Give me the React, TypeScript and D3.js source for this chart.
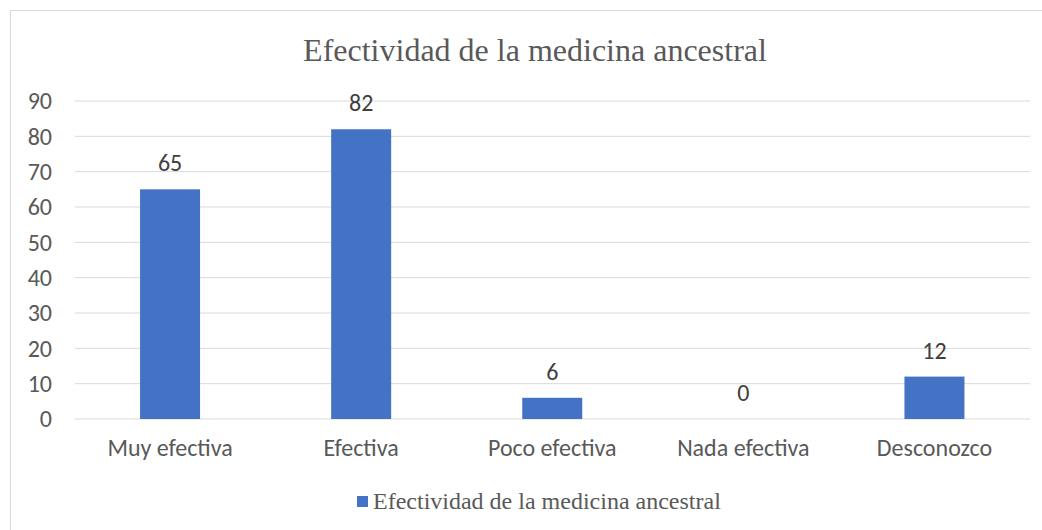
import React from 'react'
import { scaleBand, scaleLinear } from 'd3'

const categorias = ['Muy efectiva', 'Efectiva', 'Poco efectiva', 'Nada efectiva', 'Desconozco']
const valores = [65, 82, 6, 0, 12]
const ticksY = [0, 10, 20, 30, 40, 50, 60, 70, 80, 90]
const titulo = 'Efectividad de la medicina ancestral'
const serie = 'Efectividad de la medicina ancestral'

const W = 1042
const H = 530
const sans = "Carlito, 'Liberation Sans', Arial, sans-serif"
const serif = "'Liberation Serif', 'Times New Roman', serif"

const App = () => {
    const x = scaleBand()
        .domain(categorias)
        .range([74.5, 1030])
        .paddingInner(0.686)
        .paddingOuter(0.343)

    const y = scaleLinear()
        .domain([0, 90])
        .range([419, 101])

    return (
        <svg width={W} height={H} style={{ position: 'absolute', left: 0, top: 0 }}>
            <rect x={0} y={0} width={W} height={H} fill="#fff" />
            <rect x={10.5} y={10.5} width={1040} height={530} fill="none" stroke="#d9d9d9" />
            <text x={535} y={61} textAnchor="middle" fontFamily={serif} fontSize={32} fill="#595959">
                {titulo}
            </text>
            {/* rejilla */}
            {ticksY.map(t => (
                <g key={t}>
                    <line x1={75} x2={1030} y1={y(t)} y2={y(t)} stroke="#d9d9d9" strokeWidth={1} />
                    <text x={52} y={y(t)} dy="0.35em" textAnchor="end" fontFamily={sans} fontSize={24} fill="#595959">
                        {t}
                    </text>
                </g>
            ))}
            {/* barras */}
            {categorias.map((c, i) => (
                <g key={c}>
                    <rect
                        x={x(c)}
                        y={y(valores[i])}
                        width={x.bandwidth()}
                        height={y(0) - y(valores[i])}
                        fill="#4472c4"
                    />
                    <text
                        x={(x(c) ?? 0) + x.bandwidth() / 2}
                        y={y(valores[i]) - 18}
                        textAnchor="middle"
                        fontFamily={sans}
                        fontSize={24}
                        fill="#404040"
                    >
                        {valores[i]}
                    </text>
                    <text
                        x={(x(c) ?? 0) + x.bandwidth() / 2}
                        y={456}
                        textAnchor="middle"
                        fontFamily={sans}
                        fontSize={24}
                        fill="#595959"
                    >
                        {c}
                    </text>
                </g>
            ))}
            {/* leyenda */}
            <rect x={357} y={496} width={11} height={11} fill="#4472c4" />
            <text x={373} y={509} fontFamily={serif} fontSize={24} fill="#595959">
                {serie}
            </text>
        </svg>
    )
}

export default App
